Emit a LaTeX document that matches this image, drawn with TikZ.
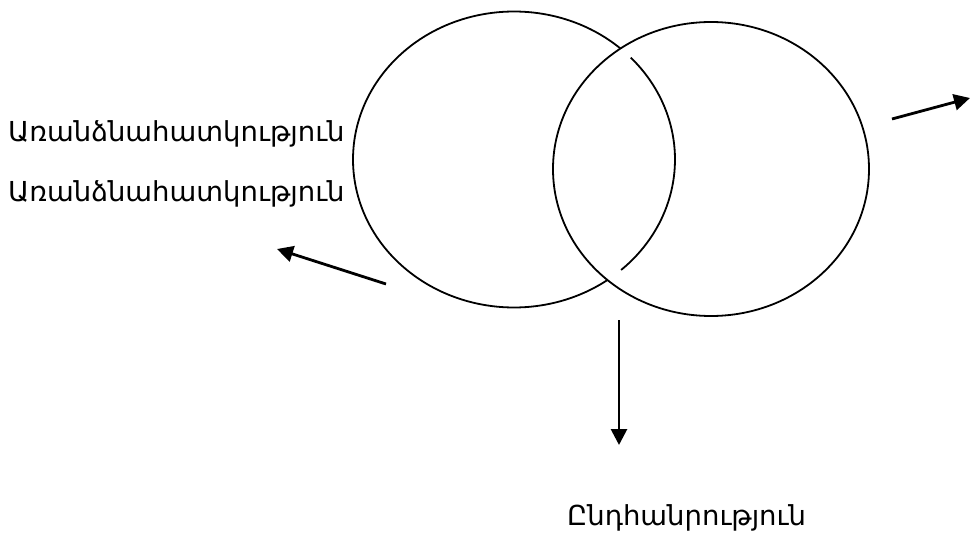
\documentclass[tikz,border=0pt]{standalone}
\usepackage{fontspec}
\setmainfont{DejaVu Sans}
\usetikzlibrary{arrows.meta}
\begin{document}
\begin{tikzpicture}[x=1pt,y=1pt,
  ring/.style={line width=1.8pt},
  pointer/.style={line width=2.8pt,-{Triangle[length=16pt,width=16pt]}},
  lbl/.style={inner sep=0pt,anchor=base west,font=\fontsize{27.5}{32}\selectfont}]
\useasboundingbox (0,0) rectangle (970,542);
% centres
\coordinate (L) at (514,382.5);
\coordinate (R) at (711,373);
% right ellipse, full
\draw[ring] (R) ellipse[x radius=158,y radius=147];
% left ellipse, with gaps where it passes under the right one
\draw[ring] (L) ++(43.5:161pt and 148pt) arc[start angle=43.5,end angle=-48.3,x radius=161,y radius=148];
\draw[ring] (L) ++(48.6:161pt and 148pt) arc[start angle=48.6,end angle=305.5,x radius=161,y radius=148];
% labels
\node[lbl] (t1) at (8,400) {Առանձնահատկություն};
\node[lbl] (t2) at (8,340) {Առանձնահատկություն};
\node[lbl] (t3) at (567,17) {Ընդհանրություն};
% arrows
\coordinate (a1s) at (892,423);
\coordinate (a1e) at (970,444);
\coordinate (a2s) at (386,258);
\coordinate (a2e) at (277,293);
\coordinate (a3s) at (619,222);
\coordinate (a3e) at (619,97);
\draw[pointer] (a1s) -- (a1e);
\draw[pointer] (a2s) -- (a2e);
\draw[pointer] (a3s) -- (a3e);
\end{tikzpicture}
\end{document}
